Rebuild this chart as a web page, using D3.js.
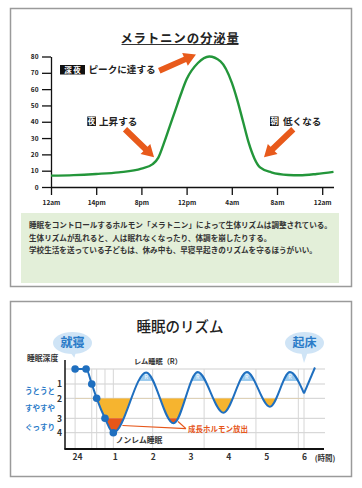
<!DOCTYPE html>
<html lang="ja">
<head>
<meta charset="UTF-8">
<title>メラトニンと睡眠のリズム</title>
<script src="https://d3js.org/d3.v7.min.js"></script>
<style>
  body { margin: 0; background: #fff; }
  text { font-family: "Noto Sans CJK JP", "Noto Sans", sans-serif; }
</style>
</head>
<body>
<script>
const width = 362, height = 488;

// --- melatonin secretion (top chart)
const melHours  = [0, 2, 4, 6, 8, 9, 9.5, 10, 10.5, 11, 11.5, 12, 13, 14, 15, 16, 16.5, 17, 17.5, 18, 18.5, 19.5, 21, 22, 23.5, 25];
const melValues = [7, 7.3, 8, 9, 11.2, 14, 18, 27, 37, 47, 57, 66, 76, 80, 77, 64, 53, 40, 27, 17.5, 12, 9, 7.4, 7.2, 8, 9.3];
const melTicks  = [0, 10, 20, 30, 40, 50, 60, 70, 80];
const hourTicks = [0, 4, 8, 12, 16, 20, 24];
const hourLabels = ["12am", "14pm", "8pm", "12pm", "4am", "8am", "12am"];
const notes = [
  "睡眠をコントロールするホルモン「メラトニン」によって生体リズムは調整されている。",
  "生体リズムが乱れると、人は眠れなくなったり、体調を崩したりする。",
  "学校生活を送っている子どもは、休み中も、早寝早起きのリズムを守るほうがいい。"
];

// --- sleep rhythm (bottom chart)
const sleepHours = [-0.05, 0.24, 0.39, 0.52, 0.74, 0.96, 1.83, 2.55, 3.19, 3.87, 4.49, 5.10, 5.63, 6.0, 6.29];
const sleepDepth = [0, 0, 1, 2, 3, 4, 0.23, 3.35, 0.2, 2.72, 0.2, 2.42, 0.2, 1.65, -0.1];
const dotCount = 6;
const depthTicks = [1, 2, 3, 4];
const depthNames = ["うとうと", "すやすや", "ぐっすり"];
const depthNamePos = [1.5, 2.5, 3.6];
const clockTicks = [0, 1, 2, 3, 4, 5, 6];
const clockLabels = ["24", "1", "2", "3", "4", "5", "6"];
const gridHours = [-0.05, 0.39, 0.52, 0.74, 0.96, 2.0, 3.36, 4.73, 5.85, 6.0];
const remPeaks = [1.83, 3.19, 4.49, 5.63];

const svg = d3.select("body").append("svg")
    .attr("width", width).attr("height", height);

// panels
svg.append("rect").attr("x", 10.5).attr("y", 8.5).attr("width", 341).attr("height", 278)
    .attr("fill", "#fff").attr("stroke", "#9a9a9a").attr("stroke-width", 1.5);
svg.append("rect").attr("x", 10.5).attr("y", 301.5).attr("width", 341).attr("height", 175)
    .attr("fill", "#fff").attr("stroke", "#9a9a9a").attr("stroke-width", 1.5);

// ================= top chart =================
const xTop = d3.scaleLinear().domain([0, 25]).range([51, 333.5]);
const yTop = d3.scaleLinear().domain([0, 80]).range([187, 56.5]);

svg.append("text").attr("x", 180).attr("y", 42.5).attr("text-anchor", "middle")
    .attr("font-size", 12.5).attr("font-weight", "bold").attr("letter-spacing", 0.8)
    .attr("fill", "#222").text("メラトニンの分泌量");
svg.append("line").attr("x1", 121.5).attr("x2", 238.5).attr("y1", 44.5).attr("y2", 44.5)
    .attr("stroke", "#333").attr("stroke-width", 1);

const yAxisTop = svg.append("g").attr("transform", "translate(51,0)")
    .call(d3.axisLeft(yTop).tickValues(melTicks).tickSize(9).tickSizeOuter(0).tickPadding(3.5));
const xAxisTop = svg.append("g").attr("transform", "translate(0,187)")
    .call(d3.axisBottom(xTop).tickValues(hourTicks).tickFormat((d, i) => hourLabels[i])
        .tickSize(8).tickSizeOuter(0).tickPadding(5));
[yAxisTop, xAxisTop].forEach(g => {
  g.selectAll("path, line").attr("stroke", "#111").attr("stroke-width", 1.3);
  g.selectAll("text").attr("font-size", 6.5).attr("font-weight", "bold").attr("fill", "#222")
      .attr("font-family", '"Noto Sans CJK JP", sans-serif');
});

svg.append("path")
    .datum(melHours.map((h, i) => [h, melValues[i]]))
    .attr("d", d3.line().x(d => xTop(d[0])).y(d => yTop(d[1])).curve(d3.curveMonotoneX))
    .attr("fill", "none").attr("stroke", "#23963a").attr("stroke-width", 2.4);

function arrowPath(x1, y1, x2, y2) {
  const dx = x2 - x1, dy = y2 - y1, len = Math.hypot(dx, dy);
  const ux = dx / len, uy = dy / len, px = -uy, py = ux;
  const hl = 12, hw = 7, sw = 3;
  const bx = x2 - ux * hl, by = y2 - uy * hl;
  const pts = [[x1 + px * sw, y1 + py * sw], [bx + px * sw, by + py * sw], [bx + px * hw, by + py * hw],
               [x2, y2], [bx - px * hw, by - py * hw], [bx - px * sw, by - py * sw], [x1 - px * sw, y1 - py * sw]];
  return d3.line()(pts) + "Z";
}
const arrows = [
  [9.58, 71.3, 12.83, 81.2],
  [6.55, 35.4, 9.12, 18.2],
  [21.44, 35.4, 18.85, 18.2]
];
arrows.forEach(a => {
  svg.append("path").attr("d", arrowPath(xTop(a[0]), yTop(a[1]), xTop(a[2]), yTop(a[3])))
      .attr("fill", "#e85a1b");
});

// labels with black boxes
function tag(x, y, w, label) {
  svg.append("rect").attr("x", x).attr("y", y).attr("width", w).attr("height", 9.5).attr("fill", "#111");
  svg.append("text").attr("x", x + w / 2).attr("y", y + 7.6).attr("text-anchor", "middle")
      .attr("font-size", 7.5).attr("font-weight", "bold").attr("fill", "#fff").text(label);
}
tag(60, 65, 25, "深 夜");
svg.append("text").attr("x", 88.5).attr("y", 73).attr("font-size", 9.6).attr("font-weight", "bold")
    .attr("fill", "#222").text("ピークに達する");
tag(87.3, 116.5, 8.6, "夜");
svg.append("text").attr("x", 99).attr("y", 124.6).attr("font-size", 9.6).attr("font-weight", "bold")
    .attr("fill", "#222").text("上昇する");
tag(270, 116.5, 8.6, "朝");
svg.append("text").attr("x", 283).attr("y", 124.6).attr("font-size", 9.6).attr("font-weight", "bold")
    .attr("fill", "#222").text("低くなる");

// note box
svg.append("rect").attr("x", 21).attr("y", 213).attr("width", 318).attr("height", 70).attr("fill", "#e3efd9");
svg.append("g").selectAll("text").data(notes).join("text")
    .attr("x", 29).attr("y", (d, i) => 228 + i * 12.5)
    .attr("font-size", 7.6).attr("font-weight", "bold").attr("fill", "#333")
    .text(d => d);

// ================= bottom chart =================
const xBot = d3.scaleLinear().domain([0, 6]).range([77, 304]);
const yBot = d3.scaleLinear().domain([0, 1, 2, 3, 4]).range([369, 384, 398.3, 418.3, 432.7]);

svg.append("text").attr("x", 180).attr("y", 332).attr("text-anchor", "middle")
    .attr("font-size", 14.5).attr("font-weight", 500).attr("fill", "#222").text("睡眠のリズム");

// grid
svg.append("g").selectAll("line").data([0, 1, 2, 3, 4]).join("line")
    .attr("x1", 65).attr("x2", 325).attr("y1", d => yBot(d)).attr("y2", d => yBot(d))
    .attr("stroke", "#cfcfcf").attr("stroke-width", 1);
svg.append("g").selectAll("line").data(gridHours).join("line")
    .attr("x1", d => xBot(d)).attr("x2", d => xBot(d)).attr("y1", yBot(0)).attr("y2", 449)
    .attr("stroke", "#d6d6d6").attr("stroke-width", 1);

const wave = sleepHours.slice(0, 14).map((h, i) => [h, sleepDepth[i]]);
const area = d3.area().x(d => xBot(d[0])).y1(d => yBot(d[1])).curve(d3.curveMonotoneX);

const defs = svg.append("defs");
function clip(id, x, y, w, h) {
  defs.append("clipPath").attr("id", id).append("rect")
      .attr("x", x).attr("y", y).attr("width", w).attr("height", h);
}
clip("cap", xBot(1.2), 355, 200, yBot(0.8) - 355);
clip("light", 60, yBot(2), 270, yBot(3) - yBot(2));
clip("dark", 60, yBot(3), 270, 30);

svg.append("path").datum(wave).attr("clip-path", "url(#cap)")
    .attr("d", area.y0(yBot(0.8))).attr("fill", "#9ccbee");
svg.append("path").datum(wave).attr("clip-path", "url(#light)")
    .attr("d", area.y0(yBot(2))).attr("fill", "#f6b42f");
svg.append("path").datum(wave).attr("clip-path", "url(#dark)")
    .attr("d", area.y0(yBot(2))).attr("fill", "#e6561a");

svg.append("g").selectAll("text").data(remPeaks).join("text")
    .attr("x", d => xBot(d)).attr("y", yBot(0.65)).attr("text-anchor", "middle")
    .attr("font-size", 5.5).attr("fill", "#fff").attr("font-family", "Liberation Sans, sans-serif")
    .text("R");

// growth hormone leaders
const leaderEnd = [xBot(2.88), yBot(3.72)];
[[1.2, 3.5], [2.67, 3.22]].forEach(p => {
  svg.append("line").attr("x1", xBot(p[0])).attr("y1", yBot(p[1]))
      .attr("x2", leaderEnd[0]).attr("y2", leaderEnd[1])
      .attr("stroke", "#e6561a").attr("stroke-width", 1.2);
});
svg.append("text").attr("x", leaderEnd[0] + 2).attr("y", leaderEnd[1] + 3)
    .attr("font-size", 7.5).attr("font-weight", "bold").attr("fill", "#e6561a").text("成長ホルモン放出");

// sleep curve
svg.append("path").datum(wave)
    .attr("d", d3.line().x(d => xBot(d[0])).y(d => yBot(d[1])).curve(d3.curveMonotoneX))
    .attr("fill", "none").attr("stroke", "#1f6fbf").attr("stroke-width", 2);
svg.append("path").datum(sleepHours.slice(13).map((h, i) => [h, sleepDepth[13 + i]]))
    .attr("d", d3.line().x(d => xBot(d[0])).y(d => yBot(d[1])))
    .attr("fill", "none").attr("stroke", "#1f6fbf").attr("stroke-width", 2);
svg.append("g").selectAll("circle").data(sleepHours.slice(0, dotCount)).join("circle")
    .attr("cx", d => xBot(d)).attr("cy", (d, i) => yBot(sleepDepth[i])).attr("r", 3.8)
    .attr("fill", "#1f6fbf");

// axes
svg.append("line").attr("x1", 65).attr("x2", 65).attr("y1", 360).attr("y2", 449.5)
    .attr("stroke", "#111").attr("stroke-width", 1.5);
svg.append("line").attr("x1", 64.5).attr("x2", 324).attr("y1", 449).attr("y2", 449)
    .attr("stroke", "#111").attr("stroke-width", 2);

const yAxisBot = svg.append("g").attr("transform", "translate(65,0)")
    .call(d3.axisLeft(yBot).tickValues(depthTicks).tickFormat(d3.format("d")).tickSize(0).tickPadding(3));
const xAxisBot = svg.append("g").attr("transform", "translate(0,449)")
    .call(d3.axisBottom(xBot).tickValues(clockTicks).tickFormat((d, i) => clockLabels[i]).tickSize(0).tickPadding(5));
[yAxisBot, xAxisBot].forEach(g => {
  g.select(".domain").remove();
  g.selectAll("text").attr("font-size", 8.5).attr("font-weight", "bold").attr("fill", "#333")
      .attr("font-family", '"Noto Sans CJK JP", sans-serif');
});
svg.append("text").attr("x", 325).attr("y", 460.5).attr("text-anchor", "middle")
    .attr("font-size", 7.5).attr("font-weight", "bold").attr("fill", "#333").text("(時間)");

svg.append("text").attr("x", 27).attr("y", 361).attr("font-size", 7.8).attr("font-weight", "bold")
    .attr("fill", "#333").text("睡眠深度");
svg.append("g").selectAll("text").data(depthNames).join("text")
    .attr("x", 25).attr("y", (d, i) => yBot(depthNamePos[i]) + 2.8)
    .attr("font-size", 7.5).attr("font-weight", "bold").attr("fill", "#2a7bc8").text(d => d);

svg.append("text").attr("x", 158).attr("y", 363.5).attr("font-size", 7.2).attr("font-weight", "bold")
    .attr("fill", "#333").attr("text-anchor", "middle").text("レム睡眠（R）");
svg.append("text").attr("x", 139).attr("y", 443).attr("font-size", 7.8).attr("fill", "#333")
    .attr("text-anchor", "middle").attr("font-weight", "bold").text("ノンレム睡眠");

// speech bubbles
function bubble(cx, tipX, tipY, label) {
  svg.append("path")
      .attr("d", d3.line()([[cx - 4, 350], [tipX, tipY], [cx + 4, 350]]) + "Z")
      .attr("fill", "#cfe4f6");
  svg.append("ellipse").attr("cx", cx).attr("cy", 343).attr("rx", 19.5).attr("ry", 11)
      .attr("fill", "#cfe4f6");
  svg.append("text").attr("x", cx).attr("y", 347.3).attr("text-anchor", "middle")
      .attr("font-size", 12).attr("font-weight", "bold").attr("fill", "#2a7bc8").text(label);
}
bubble(72.5, xBot(-0.07), yBot(-0.75), "就寝");
bubble(304.5, xBot(6.0), yBot(-0.4), "起床");
</script>
</body>
</html>
